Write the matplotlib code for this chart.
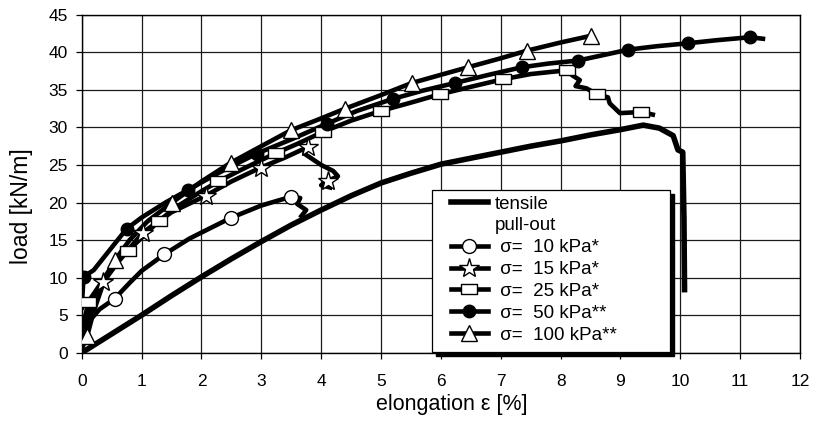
import matplotlib
matplotlib.use("Agg")
import matplotlib.pyplot as plt
from matplotlib.lines import Line2D
from matplotlib.patches import Rectangle

plt.rcParams['font.family'] = ['Liberation Sans', 'DejaVu Sans']

# ======================
# Data
# ======================
# tensile test
x_ten = [0, 0.5, 1, 1.5, 2, 2.5, 3, 3.5, 4, 4.5, 5, 5.5, 6, 6.5, 7, 7.5, 8, 8.5, 9,
         9.38, 9.65, 9.88, 9.96, 10.04, 10.06, 10.07]
y_ten = [0, 2.5, 5.0, 7.6, 10.1, 12.5, 14.8, 17.0, 19.0, 20.9, 22.6, 23.9, 25.1, 25.9,
         26.7, 27.5, 28.2, 29.0, 29.7, 30.3, 29.9, 28.9, 27.0, 26.7, 18.0, 8.4]

# pull-out, sigma = 10 kPa
x_10 = [0.0, 0.1, 0.3, 0.55, 0.8, 1.0, 1.38, 1.8, 2.1, 2.49, 3.0, 3.49, 3.65, 3.6, 3.75, 3.67]
y_10 = [2.0, 4.0, 5.8, 7.2, 9.3, 10.9, 13.1, 15.2, 16.4, 17.95, 19.6, 20.75, 20.6, 19.8, 19.0, 18.2]
xm_10 = [0.55, 1.38, 2.49, 3.49]
ym_10 = [7.2, 13.1, 17.95, 20.75]

# pull-out, sigma = 15 kPa
x_15 = [0.0, 0.1, 0.2, 0.36, 0.6, 1.02, 1.5, 2.07, 2.5, 2.99, 3.4, 3.78, 3.72, 3.85,
        4.0, 4.2, 4.28, 4.12, 4.0, 4.15]
y_15 = [1.0, 4.5, 7.0, 9.4, 12.0, 16.0, 18.7, 20.9, 22.8, 24.65, 26.0, 27.4, 26.5, 25.8,
        25.0, 24.2, 23.5, 22.9, 22.3, 22.0]
xm_15 = [0.36, 1.02, 2.07, 2.99, 3.78, 4.12]
ym_15 = [9.4, 16.0, 20.9, 24.65, 27.4, 22.9]

# pull-out, sigma = 25 kPa
x_25 = [0.0, 0.05, 0.11, 0.3, 0.5, 0.78, 1.0, 1.29, 1.6, 2.0, 2.28, 2.7, 3.25, 3.6, 4.03,
        4.5, 5.0, 5.5, 5.98, 6.5, 7.03, 7.5, 8.1, 8.2, 8.32, 8.25, 8.43, 8.61, 8.79, 8.82,
        8.99, 9.35, 9.54]
y_25 = [1.5, 4.5, 6.8, 9.0, 11.5, 13.6, 15.3, 17.55, 19.5, 21.5, 22.8, 24.5, 26.6, 27.8,
        29.4, 30.9, 32.2, 33.3, 34.4, 35.4, 36.4, 37.1, 37.6, 36.9, 36.3, 35.5, 35.2, 34.4,
        34.0, 33.2, 31.9, 32.05, 31.7]
xm_25 = [0.11, 0.78, 1.29, 2.28, 3.25, 4.03, 5.0, 5.98, 7.03, 8.1, 8.61, 9.35]
ym_25 = [6.8, 13.6, 17.55, 22.8, 26.6, 29.4, 32.2, 34.4, 36.4, 37.6, 34.4, 32.05]

# pull-out, sigma = 50 kPa
x_50 = [0.0, 0.03, 0.2, 0.4, 0.75, 1.0, 1.4, 1.78, 2.3, 2.92, 3.5, 4.1, 4.6, 5.2, 5.7,
        6.23, 6.8, 7.35, 7.8, 8.29, 8.7, 9.13, 9.6, 10.13, 10.6, 11.16, 11.38]
y_50 = [6.0, 10.1, 11.0, 13.0, 16.5, 18.0, 20.0, 21.7, 24.0, 26.5, 28.4, 30.5, 32.2, 33.8,
        34.9, 35.9, 37.0, 38.0, 38.5, 38.9, 39.6, 40.35, 40.8, 41.2, 41.6, 42.0, 41.8]
xm_50 = [0.03, 0.75, 1.78, 2.92, 4.1, 5.2, 6.23, 7.35, 8.29, 9.13, 10.13, 11.16]
ym_50 = [10.1, 16.5, 21.7, 26.5, 30.5, 33.8, 35.9, 38.0, 38.9, 40.35, 41.2, 42.0]

# pull-out, sigma = 100 kPa
x_100 = [0.0, 0.09, 0.2, 0.35, 0.56, 0.8, 1.1, 1.51, 2.0, 2.49, 3.0, 3.49, 4.0, 4.4,
         5.0, 5.51, 6.0, 6.45, 7.0, 7.43, 8.0, 8.51]
y_100 = [0.5, 2.2, 5.5, 9.0, 12.4, 15.0, 17.5, 20.0, 22.8, 25.3, 27.5, 29.6, 31.2, 32.5,
         34.3, 35.9, 37.0, 38.0, 39.2, 40.2, 41.3, 42.2]
xm_100 = [0.09, 0.56, 1.51, 2.49, 3.49, 4.4, 5.51, 6.45, 7.43, 8.51]
ym_100 = [2.2, 12.4, 20.0, 25.3, 29.6, 32.5, 35.9, 38.0, 40.2, 42.2]

labels = ["tensile", "pull-out",
          " σ=  10 kPa*", " σ=  15 kPa*", " σ=  25 kPa*",
          " σ=  50 kPa**", " σ=  100 kPa**"]

# ======================
# Figure
# ======================
fig = plt.figure(figsize=(8.14, 4.25), dpi=100)
ax = fig.add_axes([0.1004, 0.170, 0.8825, 0.7954])

# flat rectangle used for the 25 kPa marker
rect_marker = [(-1, -0.68), (1, -0.68), (1, 0.68), (-1, 0.68), (-1, -0.68)]

lw = 3.3
ax.plot(x_ten, y_ten, color='k', lw=4.0, zorder=3)

# (marker, size, face) for each pull-out series
series = [
    (x_10, y_10, xm_10, ym_10, 'o', 10, 'white'),
    (x_15, y_15, xm_15, ym_15, '*', 15, 'white'),
    (x_25, y_25, xm_25, ym_25, rect_marker, 11, 'white'),
    (x_50, y_50, xm_50, ym_50, 'o', 9, 'black'),
    (x_100, y_100, xm_100, ym_100, '^', 11, 'white'),
]
handles = [Line2D([], [], color='k', lw=4.0),
           Line2D([], [], ls='none')]
for xs, ys, xm, ym, mk, ms, fc in series:
    ax.plot(xs, ys, color='k', lw=lw, solid_joinstyle='round', zorder=4)
    ax.plot(xm, ym, ls='none', marker=mk, ms=ms, mfc=fc, mec='k', mew=1.0, zorder=5)
    handles.append(Line2D([], [], color='k', lw=lw, marker=mk, ms=ms,
                          mfc=fc, mec='k', mew=1.0))

ax.set_xlim(0, 12)
ax.set_ylim(0, 45)
ax.set_xticks(range(0, 13))
ax.set_yticks(range(0, 46, 5))
ax.grid(True, color='#1a1a1a', lw=0.9)
ax.set_axisbelow(True)
for s in ax.spines.values():
    s.set_color('k')
    s.set_linewidth(1.0)
ax.tick_params(direction='out', length=4, width=0.9, colors='k', labelsize=12.5)
ax.tick_params(axis='x', pad=11)
ax.tick_params(axis='y', pad=6)

ax.set_xlabel("elongation ε [%]", fontsize=15.5)
ax.xaxis.set_label_coords(0.5155, -0.122)
ax.set_ylabel("load [kN/m]", fontsize=16.5)
ax.yaxis.set_label_coords(-0.068, 0.434)

# legend box with a solid drop shadow
box = (0.4877, 0.002, 0.3313, 0.479)
ax.add_patch(Rectangle((box[0] + 0.005, box[1] - 0.0105), box[2], box[3],
                       transform=ax.transAxes, facecolor='k', edgecolor='k',
                       clip_on=False, zorder=9))
ax.add_patch(Rectangle((box[0], box[1]), box[2], box[3],
                       transform=ax.transAxes, facecolor='white', edgecolor='k',
                       lw=0.9, clip_on=False, zorder=9.5))

leg = ax.legend(handles, labels, loc='upper left',
                bbox_to_anchor=(0.5141, 0.4651),
                borderaxespad=0, borderpad=0, fontsize=13.5, handlelength=1.95,
                handletextpad=0.4, labelspacing=0.25, frameon=False)
leg.set_zorder(10)

fig.savefig("out.png", dpi=100)
